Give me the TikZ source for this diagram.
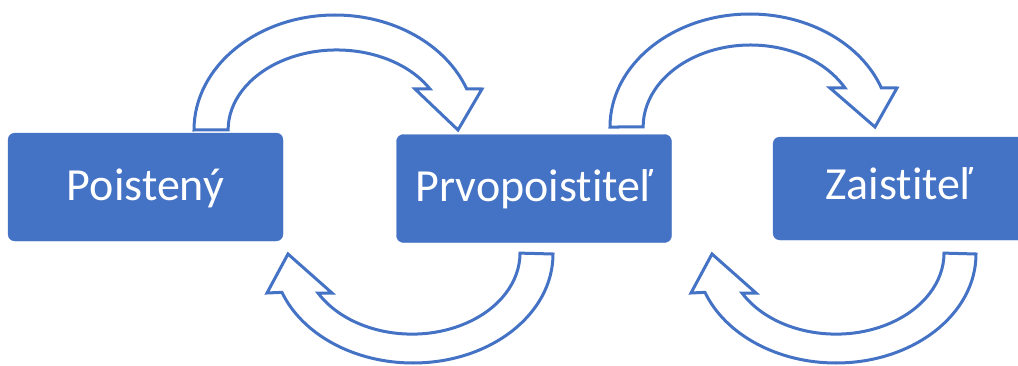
\documentclass[tikz,border=0pt]{standalone}
\usepackage{fontspec}
\setmainfont{Carlito}[Ligatures=NoCommon]
\definecolor{officeblue}{HTML}{4472C4}
\tikzset{
  boxnode/.style={fill=officeblue, draw=officeblue, rounded corners=7pt, minimum width=275pt, minimum height=108pt, inner sep=0pt},
  boxtext/.style={inner sep=0pt, text=white, font=\fontsize{46}{50}\selectfont, text height=26pt, text depth=0pt},
  blockarrow/.style={draw=officeblue, fill=white, line width=3pt, line join=miter}
}
\begin{document}
\begin{tikzpicture}[x=1pt,y=1pt]
\useasboundingbox (0,0) rectangle (1018,365);
% boxes
\node[boxnode] (b1) at (145.5,178) {};
\node[boxtext] (t1) at (b1.center) {Poistený};
\node[boxnode] (b2) at (534,176.5) {};
\node[boxtext] (t2) at (b2.center) {Prvopoistiteľ};
\node[boxnode, minimum height=103pt] (b3) at (910.5,176.5) {};
\node[boxtext] (t3) at (899,178.5) {Zaistiteľ};
% arrow 1: b1 -> b2 (top)
\draw[blockarrow] (194,235) arc[start angle=180, end angle=20.9, x radius=141pt, y radius=115pt]
  -- (482,276) -- (458,235) -- (415,276) -- (430,276)
  arc[start angle=30.8, end angle=180, x radius=108.6pt, y radius=80pt] -- cycle;
% arrow 2: b2 -> b1 (bottom)
\draw[blockarrow] (553,111) arc[start angle=360, end angle=200.6, x radius=140pt, y radius=109pt]
  -- (267,72) -- (288,111) -- (332,72) -- (318,72)
  arc[start angle=209.5, end angle=360, x radius=108pt, y radius=81pt] -- cycle;
% arrow 3: b2 -> b3 (top)
\draw[blockarrow] (610,238) arc[start angle=180, end angle=20.2, x radius=140pt, y radius=113pt]
  -- (897,277) -- (875,238) -- (830,277) -- (845,277)
  arc[start angle=28.4, end angle=180, x radius=107.4pt, y radius=82pt] -- cycle;
% arrow 4: b3 -> b2 (bottom)
\draw[blockarrow] (976,111) arc[start angle=360, end angle=200.6, x radius=140pt, y radius=109pt]
  -- (691,72) -- (712,111) -- (756,72) -- (742,72)
  arc[start angle=209.5, end angle=360, x radius=108pt, y radius=81pt] -- cycle;
\end{tikzpicture}
\end{document}
